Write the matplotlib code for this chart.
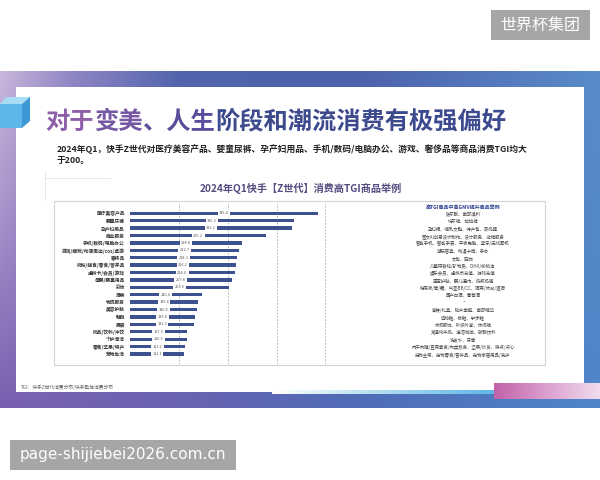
import numpy as np
import matplotlib
matplotlib.use("Agg")
import matplotlib.pyplot as plt
from matplotlib.patches import Rectangle, Polygon
from matplotlib.colors import to_rgb

plt.rcParams['font.family'] = ['Noto Sans CJK SC', 'DejaVu Sans']

# ---------------- data ----------------
categories = ['医疗美容产品', '婴童尿裤', '孕产妇用品', '商业服务', '手机/数码/电脑办公',
              '游戏/模玩/动漫周边/cos/桌游', '奢侈品', '奶粉/辅食/零食/营养品', '虚拟卡/会员/游戏',
              '母婴/婴童用品', '彩妆', '酒类', '物流服务', '美容护肤', '鞋靴', '男装',
              '奶品/饮料/冲饮', '个护清洁', '零食/坚果/特产', '宠物生活']
tgi_values = [385.4, 335.3, 331.2, 279.2, 228.8, 222.7, 218.3, 216.2, 214.0, 207.8,
              203.6, 146.4, 139.4, 136.8, 133.4, 131.3, 117.3, 116.5, 113.2, 111.1]
examples = ['玻尿酸、面部填料', '纸尿裤、拉拉裤', '孕妇裙、哺乳文胸、待产包、吸奶器',
            '图文AI创意设计制作、设计服务、店铺服务', '智能手机、智能手表、平板电脑、蓝牙/无线耳机',
            '潮玩盲盒、动漫卡牌、手办', '女包、配饰', '儿童钙铁锌/矿物质、DHA/核桃油',
            '娱乐会员、虚拟币充值、游戏充值', '宝宝护肤、婴儿湿巾、奶瓶奶嘴',
            '粉底液/膏/霜、气垫BB/CC、隔离/妆前/遮瑕', '国产白酒、葡萄酒', '·',
            '套装/礼盒、贴片面膜、面部精华', '运动鞋、板鞋、学步鞋', '休闲服饰、针织外套、休闲裤',
            '常温纯牛奶、速溶咖啡、碳酸饮料', '洗发水、牙膏',
            '肉干肉脯/豆腐素食/肉类熟食、坚果/炒货、糕点/点心',
            '宠物主粮、宠物零食/营养品、宠物家居用品/洗护']
title_parts = ['对于', '变美', '、人生', '阶段和潮流消费有极强偏好']
title_colors = ['#8e5ea9', '#7657a3', '#584e9b', '#3d4a8e']
subtitle = '2024年Q1，快手Z世代对医疗美容产品、婴童尿裤、孕产妇用品、手机/数码/电脑办公、游戏、奢侈品等商品消费TGI均大\n于200。'
chart_title = '2024年Q1快手【Z世代】消费高TGI商品举例'
right_heading = '高TGI商品中高GMV提升商品举例'
footnote = 'TGI：快手Z世代消费分布/快手整体消费分布'
xgrid = [100, 200, 300, 400, 500]

W, H = 600, 480
fig = plt.figure(figsize=(6, 4.8), dpi=100)
fig.patch.set_facecolor('white')

bg = fig.add_axes([0, 0, 1, 1])
bg.axis('off')

def lerp_colors(stops, n):
    xs = np.linspace(0, 1, n)
    pos = [s[0] for s in stops]
    cols = np.array([to_rgb(s[1]) for s in stops])
    return np.stack([np.interp(xs, pos, cols[:, k]) for k in range(3)], axis=1)

# slide background gradient
nx, ny = 300, 120
top = lerp_colors([(0, '#cbb6dc'), (0.12, '#8f86c4'), (0.3, '#5164ad'), (0.6, '#4d62ad'), (1, '#5a8bca')], nx)
bot = lerp_colors([(0, '#7a5fb0'), (0.3, '#6a63b3'), (0.6, '#4f6cb7'), (1, '#4f86c8')], nx)
t = np.linspace(0, 1, ny)[:, None, None]
img = top[None, :, :] * (1 - t) + bot[None, :, :] * t
bg.imshow(img, extent=(0, 600, 407.7, 71), aspect='auto', zorder=0, interpolation='bilinear')

# white card
bg.add_patch(Rectangle((16, 87), 567.6, 305, fc='white', ec='none', zorder=1))

# bottom decorations
line_img = lerp_colors([(0, '#ffffff'), (0.4, '#bfe3f3'), (1, '#5fb7e6')], 200)[None, :, :]
bg.imshow(line_img, extent=(272, 494, 394, 390), aspect='auto', zorder=2)
pink_img = lerp_colors([(0, '#c262a8'), (0.5, '#dba0cf'), (1, '#f1dcee')], 200)[None, :, :]
bg.imshow(pink_img, extent=(494, 600, 399, 383), aspect='auto', zorder=2)

# decorative cube
bg.add_patch(Polygon([(0, 104), (22, 104), (22, 128), (0, 128)], closed=True, fc='#5db6e7', ec='none', zorder=3))
bg.add_patch(Polygon([(0, 104), (22, 104), (30, 97), (6, 97)], closed=True, fc='#a8dcf5', ec='none', zorder=3))
bg.add_patch(Polygon([(22, 104), (30, 97), (30, 121), (22, 128)], closed=True, fc='#3f98d6', ec='none', zorder=3))

# title (gradient-like colouring in segments)
title_px = 24.3
x0 = 45
for part, col in zip(title_parts, title_colors):
    bg.text(x0, 121.7, part, fontsize=title_px * 0.72, fontweight='bold', color=col,
            ha='left', va='center', zorder=4)
    x0 += len(part) * title_px

bg.text(56.7, 144.5, subtitle, fontsize=6.3, fontweight='bold', color='#222222',
        ha='left', va='top', linespacing=1.25, zorder=4)

bg.text(301, 188, chart_title, fontsize=7.3, fontweight='bold', color='#564a80',
        ha='center', va='center', zorder=4)

# chart panel
bg.add_patch(Rectangle((54, 200.7), 491, 164.3, fc='none', ec='#d3d3d3', lw=0.8, zorder=3))
bg.plot([45, 110], [178, 178], color='#e2e2e2', lw=0.6, zorder=3)
bg.plot([45, 45], [172, 200], color='#e2e2e2', lw=0.6, zorder=3)

bg.text(21, 387.7, footnote, fontsize=3.4, color='#666666', ha='left', va='center', zorder=4)

# watermarks
bg.add_patch(Rectangle((491, 10), 99, 30, fc='#a6a6a6', ec='none', zorder=5))
bg.text(540.5, 25, '世界杯集团', fontsize=11.5, color='white', ha='center', va='center', zorder=6)
bg.add_patch(Rectangle((10, 440), 226, 29.5, fc='#a6a6a6', ec='none', zorder=5))
bg.text(123, 455, 'page-shijiebei2026.com.cn', fontsize=11, color='white', ha='center', va='center',
        family=['DejaVu Sans'], zorder=6)

# right-side example list
row0, dy = 213.3, 7.405
bg.text(463, 207, right_heading, fontsize=3.6, fontweight='bold', color='#2f4191',
        ha='center', va='center', zorder=4)
for i, ex in enumerate(examples):
    bg.text(463, row0 + 1 + dy * i, ex, fontsize=3.2, color='#444444', ha='center', va='center', zorder=4)

bg.set_xlim(0, 600)
bg.set_ylim(480, 0)

# ---------------- bar chart ----------------
ax_top, ax_bot = 203, 364
ax = fig.add_axes([130 / W, 1 - ax_bot / H, 244.3 / W, (ax_bot - ax_top) / H])
ax.patch.set_alpha(0)
ypos = np.arange(len(categories))
ax.barh(ypos, tgi_values, height=0.45, color='#3d5090', zorder=2)
for y, v in zip(ypos, tgi_values):
    ax.text(v / 2, y, f'{v:.1f}', ha='center', va='center', fontsize=2.8, color='#555555', zorder=3,
            bbox=dict(boxstyle='square,pad=0.35', fc='white', ec='none'))
ax.set_xlim(0, 500)
ax.set_ylim((ax_bot - row0) / dy, (ax_top - row0) / dy)
ax.set_xticks(xgrid)
ax.set_xticklabels([])
ax.tick_params(axis='x', length=0)
ax.xaxis.grid(True, linestyle=(0, (2, 2)), color='#a9a9a9', lw=0.6, zorder=1)
ax.set_axisbelow(True)
ax.set_yticks(ypos)
ax.set_yticklabels(categories, fontsize=3.4, fontweight='bold', color='#333333')
ax.tick_params(axis='y', length=0, pad=3.6)
for s in ax.spines.values():
    s.set_visible(False)

fig.savefig('out.png', dpi=100)
